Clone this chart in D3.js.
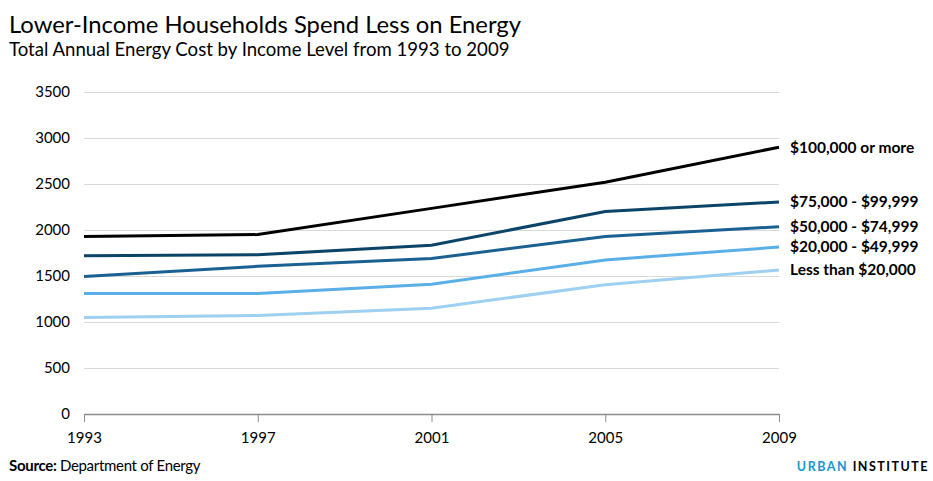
<!DOCTYPE html>
<meta charset="utf-8">
<head>
<script src="https://d3js.org/d3.v7.min.js"></script>
<style>
body { margin: 0; background: #fff; font-family: Lato, "Open Sans", sans-serif; }
.grid line { stroke: #d9d9d9; }
.tick text { font-family: Lato, sans-serif; font-size: 15px; fill: #000; }
</style>
</head>
<body>
<script>

// Data
var years = [1993, 1997, 2001, 2005, 2009];
var seriesNames = ["$100,000 or more", "$75,000 - $99,999", "$50,000 - $74,999", "$20,000 - $49,999", "Less than $20,000"];
var over100k = [1930, 1950, 2235, 2520, 2900];
var from75k = [1720, 1730, 1835, 2200, 2305];
var from50k = [1495, 1605, 1690, 1930, 2035];
var from20k = [1310, 1310, 1410, 1675, 1815];
var under20k = [1050, 1070, 1150, 1405, 1565];
var yTicks = [0, 500, 1000, 1500, 2000, 2500, 3000, 3500];
var colors = ["#000000", "#0c4468", "#1a6192", "#5aafe6", "#9ed0f1"];

var series = [over100k, from75k, from50k, from20k, under20k];

var margin = {top: 92, right: 154, bottom: 67, left: 84},
    width = 933 - margin.left - margin.right,
    height = 481 - margin.top - margin.bottom;

var svg = d3.select("body").append("svg")
    .attr("width", 933)
    .attr("height", 481);

// Titles
svg.append("text")
    .attr("x", 9).attr("y", 33)
    .style("font-size", "23.8px")
    .text("Lower-Income Households Spend Less on Energy");
svg.append("text")
    .attr("x", 9).attr("y", 56)
    .style("font-size", "18.6px")
    .text("Total Annual Energy Cost by Income Level from 1993 to 2009");

var g = svg.append("g")
    .attr("transform", "translate(" + margin.left + "," + margin.top + ")");

var x = d3.scalePoint().domain(years).range([0, width]);
var y = d3.scaleLinear().domain([0, 3500]).range([height, 0]);

// gridlines + y labels
var ya = g.append("g")
    .attr("class", "grid")
    .call(d3.axisLeft(y).tickValues(yTicks).tickFormat(d3.format("d")).tickSize(-width).tickPadding(14));
ya.select(".domain").remove();
ya.selectAll(".tick").filter(function(d) { return d === 0; }).select("line").remove();

// x axis
var xa = g.append("g")
    .attr("transform", "translate(0," + height + ")")
    .call(d3.axisBottom(x).tickSize(8).tickSizeOuter(0).tickPadding(10));
xa.select(".domain").attr("stroke", "#8c8c8c").attr("stroke-width", 1.5);
xa.selectAll(".tick line").attr("stroke", "#8c8c8c");

var line = d3.line()
    .x(function(d, i) { return x(years[i]); })
    .y(function(d) { return y(d); });

// lines, lightest drawn first
series.slice().reverse().forEach(function(s, k) {
  var i = series.length - 1 - k;
  g.append("path")
      .datum(s)
      .attr("fill", "none")
      .attr("stroke", colors[i])
      .attr("stroke-width", 3)
      .attr("d", line);
});

// end labels
series.forEach(function(s, i) {
  g.append("text")
      .attr("x", width + 11)
      .attr("y", y(s[s.length - 1]))
      .attr("dy", "0.35em")
      .style("font-size", "15.5px")
      .style("font-weight", "bold")
      .text(seriesNames[i]);
});

// footer
var src = svg.append("text")
    .attr("x", 9).attr("y", 471)
    .style("font-size", "15px")
    .style("letter-spacing", "-0.3px");
src.append("tspan").style("font-weight", "bold").text("Source: ");
src.append("tspan").text("Department of Energy");

var ui = svg.append("text")
    .attr("x", 929).attr("y", 471)
    .attr("text-anchor", "end")
    .style("font-size", "12.5px")
    .style("font-weight", "bold")
    .style("letter-spacing", "1.5px");
ui.append("tspan").attr("fill", "#1696d2").text("URBAN ");
ui.append("tspan").attr("fill", "#000").text("INSTITUTE");

</script>
</body>
